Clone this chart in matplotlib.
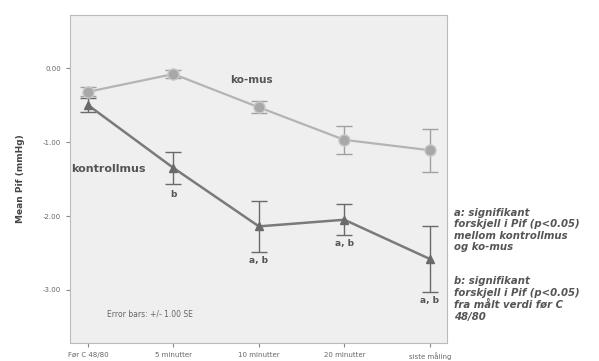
import numpy as np
import matplotlib.pyplot as plt

# tidspunkter og middelverdier (mmHg)
tider = ["Før C 48/80", "5 minutter", "10 minutter", "20 minutter", "siste måling"]
ko_mus = [-0.32, -0.08, -0.53, -0.97, -1.11]
ko_se = [0.06, 0.05, 0.08, 0.19, 0.29]
kontroll = [-0.50, -1.35, -2.14, -2.05, -2.58]
kontroll_se = [0.10, 0.22, 0.35, 0.21, 0.45]
sig_tekst = ["", "b", "a, b", "a, b", "a, b"]
yticks = [0.0, -1.0, -2.0, -3.0]

fig = plt.figure(figsize=(5.99, 3.61), dpi=100)
ax = fig.add_axes([0.117, 0.050, 0.629, 0.908])
ax.set_facecolor("#efefef")

x = np.arange(len(tider))
ax.errorbar(x, ko_mus, yerr=ko_se, color="#b4b4b4", lw=1.6, marker="o", ms=8,
            mfc="#a8a8a8", mec="#c8c8c8", ecolor="#a0a0a0", elinewidth=1.0,
            capsize=6, capthick=1.0)
ax.errorbar(x, kontroll, yerr=kontroll_se, color="#7a7a7a", lw=1.8, marker="^", ms=6,
            mfc="#6a6a6a", mec="#6a6a6a", ecolor="#6a6a6a", elinewidth=1.0,
            capsize=6, capthick=1.0)

ax.text(1.66, -0.16, "ko-mus", fontsize=7.5, fontweight="bold", color="#555555",
        va="center")
ax.text(-0.2, -1.37, "kontrollmus", fontsize=8, fontweight="bold", color="#555555",
        va="center")
# signifikans-merker under kontrollmus
for i in range(1, len(x)):
    ax.text(x[i], kontroll[i] - kontroll_se[i] - 0.05 if i != 1 else kontroll[i] - 0.3,
            sig_tekst[i], fontsize=6.5, fontweight="bold", color="#555555",
            ha="center", va="top")

ax.text(0.22, -3.36, "Error bars: +/- 1.00 SE", fontsize=5.5, color="#666666")

ax.set_xlim(-0.21, 4.2)
ax.set_ylim(-3.716, 0.716)
ax.set_xticks(x)
ax.set_xticklabels(tider, fontsize=5, color="#666666")
ax.set_yticks(yticks)
ax.set_yticklabels(["%.2f" % v for v in yticks], fontsize=5, color="#666666")
ax.tick_params(length=3, color="#888888", width=0.8)
for s in ax.spines.values():
    s.set_color("#bbbbbb")
ax.set_ylabel("Mean Pif (mmHg)", fontsize=6.5, fontweight="bold", color="#444444",
              labelpad=13)

fig.text(0.758, 0.425, "a: signifikant\nforskjell i Pif (p<0.05)\nmellom kontrollmus\nog ko-mus",
         fontsize=7.3, fontweight="bold", style="italic", color="#555555",
         va="top", linespacing=1.2)
fig.text(0.758, 0.235, "b: signifikant\nforskjell i Pif (p<0.05)\nfra målt verdi før C\n48/80",
         fontsize=7.3, fontweight="bold", style="italic", color="#555555",
         va="top", linespacing=1.2)

fig.savefig("out.png", dpi=100)
